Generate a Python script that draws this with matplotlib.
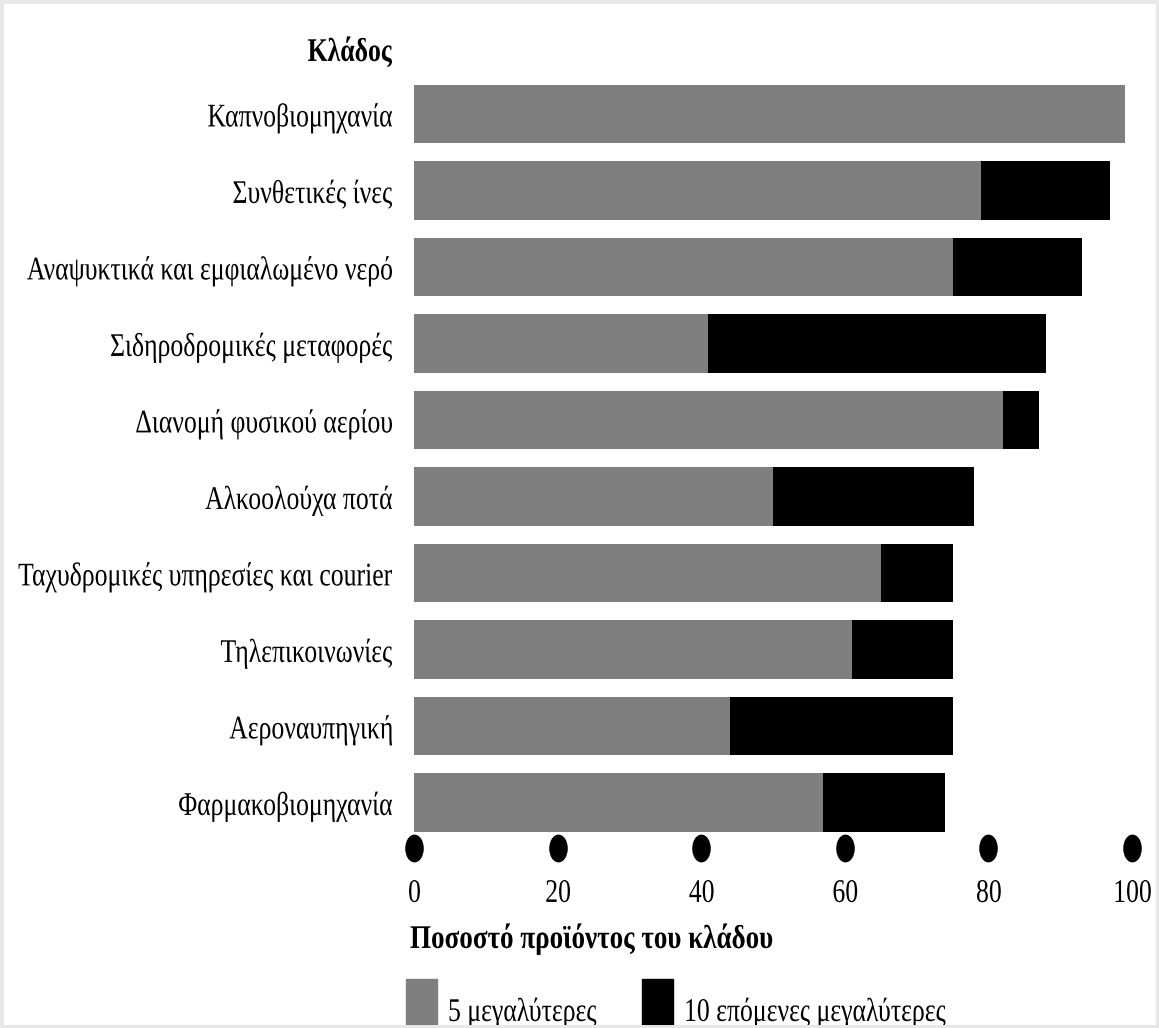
import matplotlib
matplotlib.use("Agg")
import matplotlib.pyplot as plt
from matplotlib.font_manager import FontProperties
from matplotlib.patches import PathPatch, Rectangle
from matplotlib.path import Path
from matplotlib.textpath import TextPath
from matplotlib.transforms import Affine2D
import numpy as np

# Share of sector output held by the largest firms
sectors = [
    "Καπνοβιομηχανία",
    "Συνθετικές ίνες",
    "Αναψυκτικά και εμφιαλωμένο νερό",
    "Σιδηροδρομικές μεταφορές",
    "Διανομή φυσικού αερίου",
    "Αλκοολούχα ποτά",
    "Ταχυδρομικές υπηρεσίες και courier",
    "Τηλεπικοινωνίες",
    "Αεροναυπηγική",
    "Φαρμακοβιομηχανία",
]
top5 = [99, 79, 75, 41, 82, 50, 65, 61, 44, 57]
next10 = [0, 18, 18, 47, 5, 28, 10, 14, 31, 17]
xticks = [0, 20, 40, 60, 80, 100]
legend_labels = ["5 μεγαλύτερες", "10 επόμενες μεγαλύτερες"]

GREY = "#7f7f7f"
FONT = "Liberation Serif"
EM = 33          # font size in pixels
SQUEEZE = 0.78   # horizontal condensing of the serif face
CAP = 0.662 * EM

W, H = 1159, 1028
fig = plt.figure(figsize=(W / 100, H / 100), dpi=100)
ax = fig.add_axes([414 / W, 1 - 848 / H, (1132 - 414) / W, (848 - 75.75) / H])


def label(s, x, y, ha="left", bold=False, squeeze=SQUEEZE):
    """Condensed serif text; x in px from left, y = cap centre in px from top."""
    prop = FontProperties(family=FONT, weight="bold" if bold else "normal")
    tp = TextPath((0, 0), s, size=EM, prop=prop)
    width = tp.get_extents().x1 * squeeze
    dx = {"left": 0, "right": -width, "center": -width / 2}[ha]
    tr = Affine2D().scale(squeeze, 1).translate(x + dx, H - y - CAP / 2)
    fig.add_artist(PathPatch(tp, transform=tr, facecolor="black",
                             edgecolor="none"))


y = np.arange(len(sectors))
ax.barh(y, top5, height=0.76, color=GREY, edgecolor="none")
ax.barh(y, next10, left=top5, height=0.76, color="black", edgecolor="none")

ax.set_xlim(0, 100)
ax.set_ylim(9.595, -0.5)
ax.axis("off")

# oval dots along the bottom marking the tick positions
oval = Path.unit_circle().transformed(Affine2D().scale(0.65, 1.0))
ax.plot(xticks, [0] * len(xticks), linestyle="none", marker=oval,
        markersize=19, color="black", transform=ax.get_xaxis_transform(),
        clip_on=False)

# category names, right-aligned beside each bar
for i, name in enumerate(sectors):
    yc = H - ax.transData.transform((0, i))[1]
    label(name, 392, yc + 1.5, ha="right")

# tick numbers under the dots
for t in xticks:
    xc = ax.transData.transform((t, 0))[0]
    label(str(t), xc, 891, ha="center")

label("Κλάδος", 392, 50, ha="right", bold=True)
label("Ποσοστό προϊόντος του κλάδου", 410, 937, bold=True, squeeze=0.82)

# legend swatches run off the bottom edge
for x0, col, lab in [(406, GREY, legend_labels[0]), (642, "black", legend_labels[1])]:
    fig.add_artist(Rectangle((x0 / W, 0), 31 / W, (1028 - 979) / H,
                             transform=fig.transFigure, color=col))
    label(lab, x0 + 42, 1010)

# thin light frame round the whole figure
fig.add_artist(Rectangle((0, 0), 1, 1, transform=fig.transFigure,
                         fill=False, edgecolor="#e8e8e8", linewidth=5))

fig.savefig("out.png", dpi=100)
